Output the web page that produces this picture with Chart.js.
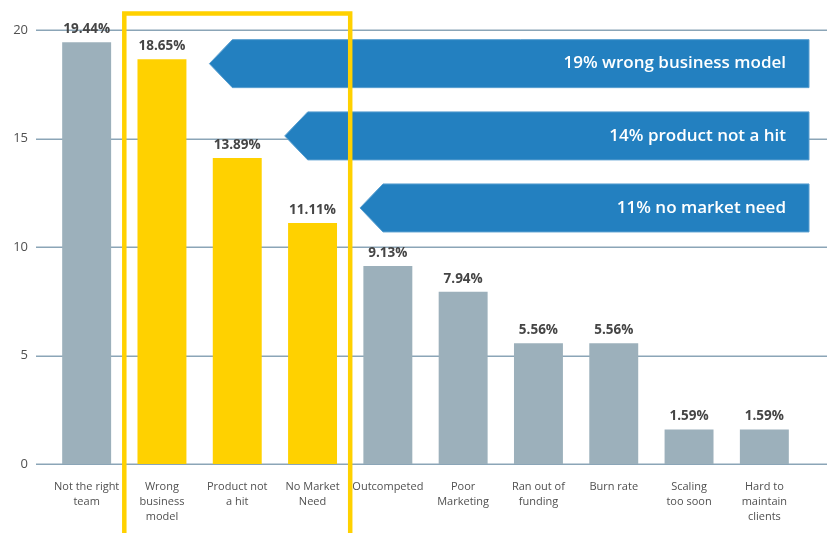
<!DOCTYPE html>
<html>
<head>
<meta charset="utf-8">
<script src="https://cdn.jsdelivr.net/npm/chart.js@4"></script>
<style>
  html, body { margin: 0; padding: 0; background: #ffffff; }
  #wrap { width: 827px; height: 533px; position: relative; }
</style>
</head>
<body>
<div id="wrap"><canvas id="c" width="827" height="533"></canvas></div>
<script>
// ---- data ----
const categories = [
  ["Not the right", "team"],
  ["Wrong", "business", "model"],
  ["Product not", "a hit"],
  ["No Market", "Need"],
  ["Outcompeted"],
  ["Poor", "Marketing"],
  ["Ran out of", "funding"],
  ["Burn rate"],
  ["Scaling", "too soon"],
  ["Hard to", "maintain", "clients"]
];
// bar heights as drawn in the picture
const values = [19.44, 18.65, 14.1, 11.11, 9.13, 7.94, 5.56, 5.56, 1.59, 1.59];
// value labels as printed above the bars
const valueLabels = ["19.44%", "18.65%", "13.89%", "11.11%", "9.13%", "7.94%", "5.56%", "5.56%", "1.59%", "1.59%"];
const highlighted = [false, true, true, true, false, false, false, false, false, false];
const yTicks = [0, 5, 10, 15, 20];

// callout arrows: category they point at, vertical centre value, text
const calloutCats = [1, 2, 3];
const calloutValues = [18.45, 15.12, 11.8];
const calloutTexts = ["19% wrong business model", "14% product not a hit", "11% no market need"];

// highlight box spans these categories
const boxFirstCat = 1;
const boxLastCat = 3;

// ---- styles ----
const GRAY = "#9cb0bb";
const YELLOW = "#ffd100";
const BLUE = "#2380c0";
const GRID = "#8ba5b7";
const TEXT = "#505050";
const FONT = "'Open Sans', 'Noto Sans', sans-serif";

const gridPlugin = {
  id: "fullGrid",
  beforeDatasetsDraw(chart) {
    const ctx = chart.ctx;
    const y = chart.scales.y;
    ctx.save();
    ctx.strokeStyle = GRID;
    ctx.lineWidth = 1.5;
    yTicks.forEach(v => {
      const py = Math.round(y.getPixelForValue(v)) + 0.25;
      ctx.beginPath();
      ctx.moveTo(36, py);
      ctx.lineTo(chart.width, py);
      ctx.stroke();
    });
    ctx.restore();
  }
};

const overlayPlugin = {
  id: "overlay",
  afterDatasetsDraw(chart) {
    const ctx = chart.ctx;
    const x = chart.scales.x;
    const y = chart.scales.y;
    const meta = chart.getDatasetMeta(0);
    ctx.save();
    // value labels
    ctx.fillStyle = "#454545";
    ctx.font = "bold 13.5px " + FONT;
    ctx.textAlign = "center";
    ctx.textBaseline = "middle";
    meta.data.forEach((bar, i) => {
      ctx.fillText(valueLabels[i], bar.x, bar.y - 13);
    });
    // callout arrows
    const step = x.getPixelForValue(1) - x.getPixelForValue(0);
    const rightEdge = 809;
    const half = 24;
    calloutCats.forEach((c, i) => {
      const cy = y.getPixelForValue(calloutValues[i]);
      const tip = x.getPixelForValue(c) + step * 0.63;
      const body = tip + 23;
      ctx.beginPath();
      ctx.moveTo(tip, cy);
      ctx.lineTo(body, cy - half);
      ctx.lineTo(rightEdge, cy - half);
      ctx.lineTo(rightEdge, cy + half);
      ctx.lineTo(body, cy + half);
      ctx.closePath();
      ctx.fillStyle = BLUE;
      ctx.fill();
      ctx.strokeStyle = "#5a9fd0";
      ctx.lineWidth = 1;
      ctx.stroke();
      ctx.fillStyle = "#ffffff";
      ctx.font = "600 17px " + FONT;
      ctx.textAlign = "right";
      ctx.textBaseline = "middle";
      ctx.fillText(calloutTexts[i], rightEdge - 23, cy);
    });
    // highlight box
    const left = (x.getPixelForValue(boxFirstCat - 1) + x.getPixelForValue(boxFirstCat)) / 2;
    const right = (x.getPixelForValue(boxLastCat) + x.getPixelForValue(boxLastCat + 1)) / 2;
    ctx.strokeStyle = YELLOW;
    ctx.lineWidth = 4.5;
    ctx.beginPath();
    ctx.moveTo(left, chart.height + 10);
    ctx.lineTo(left, 13.5);
    ctx.lineTo(right, 13.5);
    ctx.lineTo(right, chart.height + 10);
    ctx.stroke();
    ctx.restore();
  }
};

new Chart(document.getElementById("c"), {
  type: "bar",
  data: {
    labels: categories,
    datasets: [{
      data: values,
      backgroundColor: highlighted.map(h => h ? YELLOW : GRAY),
      borderWidth: 0,
      barPercentage: 0.65,
      categoryPercentage: 1.0
    }]
  },
  options: {
    responsive: false,
    animation: false,
    devicePixelRatio: 1,
    layout: { padding: { top: 30, right: 25, bottom: 0, left: 0 } },
    plugins: { legend: { display: false }, tooltip: { enabled: false } },
    scales: {
      x: {
        grid: { display: false, drawTicks: false },
        border: { display: false },
        ticks: {
          color: TEXT,
          font: { family: FONT, size: 11, lineHeight: 1.36 },
          padding: 15,
          maxRotation: 0,
          autoSkip: false
        },
        afterFit(scale) { scale.height = 69; }
      },
      y: {
        min: 0,
        max: 20,
        grid: { display: false, drawTicks: false },
        border: { display: false },
        afterBuildTicks(scale) { scale.ticks = yTicks.map(v => ({ value: v })); },
        ticks: {
          color: TEXT,
          font: { family: FONT, size: 13 },
          padding: 21
        },
        afterFit(scale) { scale.width = 49; }
      }
    }
  },
  plugins: [gridPlugin, overlayPlugin]
});
</script>
</body>
</html>
